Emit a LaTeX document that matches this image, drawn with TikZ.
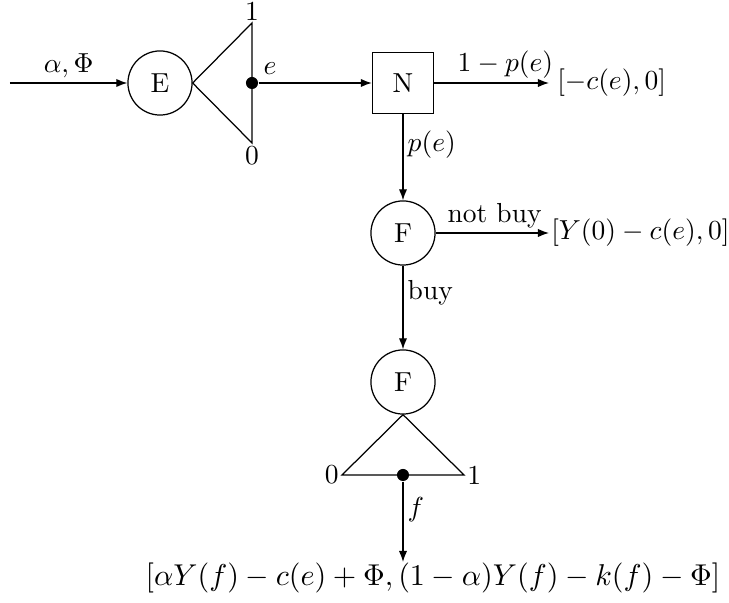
\documentclass[tikz,border=0pt]{standalone}
\usetikzlibrary{arrows.meta}
\begin{document}
\begin{tikzpicture}[x=0.3636pt,y=-0.3636pt,line width=0.45pt,
  chance/.style={draw,circle,inner sep=0pt,minimum size=23.3pt},
  nature/.style={draw,rectangle,inner sep=0pt,minimum size=22.2pt},
  dotnode/.style={fill,circle,inner sep=0pt,minimum size=4.4pt},
  arr/.style={-{Latex[length=4pt,width=3pt]}},
  lbl/.style={inner sep=1.5pt}]
\useasboundingbox (0,0) rectangle (729,603);
% nodes
\coordinate (start) at (10,83);
\node[chance] (E) at (160,83) {E};
\coordinate (t1) at (252,23);
\coordinate (t0) at (252,143);
\node[dotnode] (de) at (252,83) {};
\node[nature] (N) at (403,83) {N};
\node[anchor=west,inner sep=2.8pt] (o1) at (549,83) {$[-c(e),0]$};
\node[chance] (F1) at (403,233) {F};
\node[anchor=west,inner sep=0.6pt] (o2) at (549,233) {$[Y(0)-c(e),0]$};
\node[chance] (F2) at (403,382) {F};
\coordinate (b0) at (342,475);
\coordinate (b1) at (464,475);
\node[dotnode] (df) at (403,475) {};
\node[inner sep=1pt,font=\fontsize{10.95}{13.6}\selectfont] (o3) at (433,578) {$[\alpha Y(f)-c(e)+\Phi,(1-\alpha)Y(f)-k(f)-\Phi]$};
\coordinate (o3top) at (403,562);
% labels
\node[anchor=south,inner sep=0.5pt] at (t1) {1};
\node[anchor=north,inner sep=1pt] at (t0) {0};
\node[anchor=east,inner sep=1pt] at (b0) {0};
\node[anchor=west,inner sep=1pt] at (b1) {1};
% connectors
\draw[arr] (start) -- node[above,lbl] {$\alpha,\Phi$} (E);
\draw (E.east) -- (t1) -- (t0) -- cycle;
\draw[arr] (de) -- (N);
\path (de) -- ++(18,-14) node {$e$};
\draw[arr] (N) -- node[above,lbl,pos=0.62] {$1-p(e)$} (o1);
\draw[arr] (N) -- node[right,lbl,pos=0.35] {$p(e)$} (F1);
\draw[arr] (F1) -- node[above,lbl,pos=0.52] {not buy} (o2);
\draw[arr] (F1) -- node[right,lbl,pos=0.33] {buy} (F2);
\draw (F2.south) -- (b0) -- (b1) -- cycle;
\draw[arr] (df) -- node[right,lbl,pos=0.35] {$f$} (o3top);
\end{tikzpicture}
\end{document}
